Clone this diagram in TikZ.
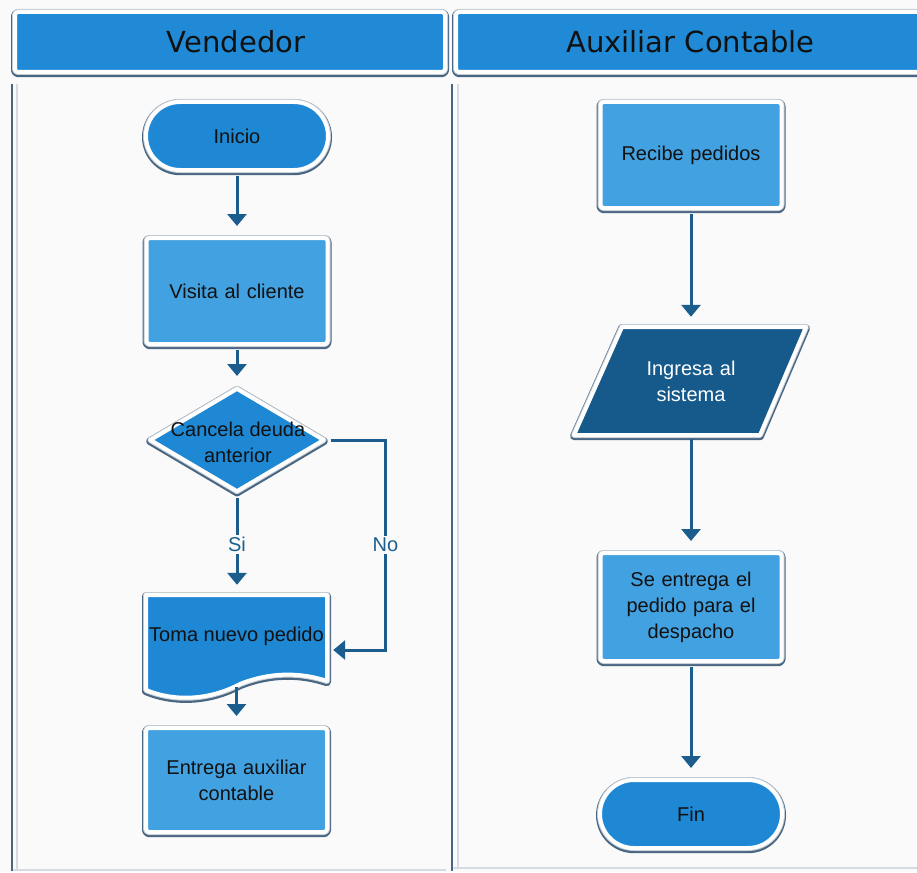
\documentclass[tikz,border=0pt]{standalone}
\usepackage{fontspec}
\setmainfont{Liberation Sans}
\newfontfamily\headfont{DejaVu Sans}
\usetikzlibrary{shapes.geometric,shapes.misc,arrows.meta}

\definecolor{pagebg}{HTML}{FAFAFA}
\definecolor{headblue}{HTML}{208AD6}
\definecolor{boxblue}{HTML}{42A1E0}
\definecolor{termblue}{HTML}{1E88D4}
\definecolor{iofill}{HTML}{155A8B}
\definecolor{connblue}{HTML}{1B5E8E}
\definecolor{edgedark}{HTML}{486582}
\definecolor{edgelight}{HTML}{C3CBD3}
\definecolor{ink}{HTML}{111111}

\begin{document}
\begin{tikzpicture}[x=1pt,y=-1pt,
  % bevelled outline: dark lower rim, light upper rim, white inner ring
  edged/.style={
    preaction={draw=edgedark, line width=8pt, line join=round,
               transform canvas={yshift=-1.2pt}},
    preaction={draw=edgelight, line width=6pt, line join=round},
    draw=white, line width=4pt, line join=round},
  txt/.style={font=\fontsize{20}{26}\selectfont, text=ink, align=center},
  proc/.style={edged, rectangle, rounded corners=3pt, fill=boxblue,
               inner sep=0pt, txt, text width=170pt, minimum width=181pt},
  term/.style={edged, rounded rectangle, fill=termblue, inner sep=0pt, txt,
               minimum width=182pt, minimum height=68pt},
  decision/.style={edged, diamond, fill=termblue, inner sep=0pt,
               minimum width=175pt, minimum height=104pt},
  hdr/.style={edged, rectangle, rounded corners=3pt, fill=headblue,
               inner sep=0pt, minimum height=60pt},
  hdrtext/.style={font=\headfont\fontsize{29}{32}\selectfont, text=ink},
  anchorbox/.style={inner sep=0pt, txt},
  conn/.style={draw=connblue, line width=3pt,
               -{Triangle[width=19pt,length=12pt]},
               shorten <=4pt, shorten >=10pt},
  lbl/.style={fill=pagebg, inner sep=2pt, text=connblue,
              font=\fontsize{20}{24}\selectfont},
  lanedark/.style={draw=edgedark, line width=2pt},
  lanelight/.style={draw=edgelight!70!white, line width=1.5pt}
]
\useasboundingbox (0,0) rectangle (917,872);
\fill[pagebg] (0,0) rectangle (917,872);
\clip (0,0) rectangle (917,872);

% swimlane bodies
\draw[lanelight] (17,84) -- (17,870);
\draw[lanelight] (12,870) -- (446,870);
\draw[lanedark] (12,84) -- (12,871);
\draw[lanelight] (458,84) -- (458,868);
\draw[lanelight] (452,868) -- (917,868);
\draw[lanedark] (452,84) -- (452,871);

% swimlane headers
\node[hdr, minimum width=430pt] (hv) at (230,42) {};
\node[hdrtext] (hvt) at (236,42) {Vendedor};
\node[hdr, minimum width=480pt] (ha) at (696,42) {};
\node[hdrtext] (hat) at (690.5,42) {Auxiliar Contable};

% Vendedor lane
\node[term] (ini) at (237,136) {Inicio};
\node[proc, minimum height=106pt] (vis) at (237,291) {Visita al cliente};
\node[decision] (dec) at (237,440) {};
\node[txt] (dect) at (238,442) {Cancela deuda\\anterior};

% document shape with wavy lower edge
\draw[edged, fill=termblue]
  (146,595) -- (327,595) -- (327,681)
  .. controls (300,672) and (270,672) .. (240,684)
  .. controls (210,700) and (175,702) .. (146,690) -- cycle;
\node[anchorbox, minimum width=181pt, minimum height=90pt,
      label={[txt, yshift=4pt]center:Toma nuevo pedido}] (toma) at (236.5,640) {};

\node[proc, minimum height=104pt] (ent) at (236.5,780) {Entrega auxiliar\\contable};

% Auxiliar Contable lane
\node[proc, minimum height=106pt] (rec) at (691,155) {Recibe pedidos};

% input/output parallelogram
\draw[edged, fill=iofill]
  (622,327) -- (806,327) -- (760,435) -- (574,435) -- cycle;
\node[anchorbox, text=white, text width=150pt, minimum height=108pt] (ing)
  at (691,381) {Ingresa al\\sistema};

\node[proc, minimum height=108pt] (se) at (691,607)
  {Se entrega el\\pedido para el\\despacho};
\node[term] (fin) at (691,814) {Fin};

% connectors
\draw[conn] (ini.south) -- (vis.north);
\draw[conn] (vis.south) -- (dec.north);
\draw[conn] (dec.south) -- node[lbl, pos=0.5] (si) {Si} (dec.south |- toma.north);
\draw[conn, shorten >=6pt] (dec.east) -- ++(59,0)
  |- node[lbl, pos=0.25] (no) {No} ([yshift=-10pt]toma.east);
\draw[conn, shorten <=2pt] (toma.south) -- (ent.north);
\draw[conn] (rec.south) -- (ing.north);
\draw[conn] (ing.south) -- (se.north);
\draw[conn] (se.south) -- (fin.north);
\end{tikzpicture}
\end{document}
